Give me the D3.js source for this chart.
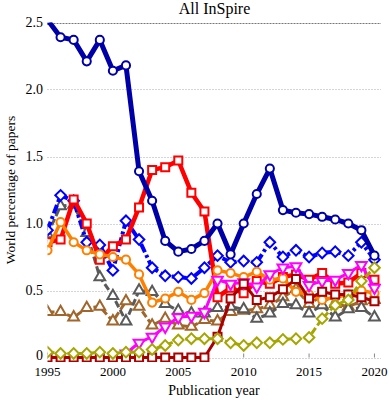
<meta charset='utf-8'>
<script src="https://d3js.org/d3.v7.min.js"></script>
<body style="margin:0;background:#fff"></body>
<script>

// DATA
var years = [1995, 1996, 1997, 1998, 1999, 2000, 2001, 2002, 2003, 2004, 2005, 2006, 2007,
             2008, 2009, 2010, 2011, 2012, 2013, 2014, 2015, 2016, 2017, 2018, 2019, 2020];
var xTicks = [1995, 2000, 2005, 2010, 2015, 2020];
var yTicks = [0, 0.5, 1.0, 1.5, 2.0, 2.5];
var yTickLabels = ['0', '0.5', '1.0', '1.5', '2.0', '2.5'];

var navyVals = [2.52, 2.39, 2.37, 2.21, 2.37, 2.14, 2.18, 1.39, 1.17, 0.87, 0.79, 0.81, 0.87,
                1.00, 0.77, 1.00, 1.22, 1.41, 1.10, 1.08, 1.07, 1.05, 1.03, 1.00, 0.95, 0.76];
var blueVals = [0.95, 1.21, 1.17, 0.86, 0.84, 0.65, 1.02, 0.88, 0.67, 0.61, 0.60, 0.59, 0.67,
                0.76, 0.71, 0.72, 0.71, 0.86, 0.75, 0.80, 0.75, 0.78, 0.79, 0.76, 0.86, 0.73];
var redVals = [0.86, 0.88, 1.18, 1.00, 0.73, 0.83, 0.88, 1.12, 1.40, 1.42, 1.47, 1.23, 1.09,
               0.45, 0.52, 0.48, 0.57, 0.55, 0.60, 0.62, 0.58, 0.63, 0.55, 0.56, 0.63, 0.58];
var orangeVals = [0.80, 1.01, 0.86, 0.80, 0.77, 0.75, 0.73, 0.62, 0.41, 0.44, 0.49, 0.43, 0.48,
                  0.65, 0.63, 0.60, 0.64, 0.58, 0.59, 0.49, 0.47, 0.43, 0.45, 0.47, 0.50, 0.48];
var grayVals = [0.92, 1.13, 1.14, 0.93, 0.60, 0.46, 0.27, 0.50, 0.49, 0.40, 0.35, 0.33, 0.33,
                0.37, 0.38, 0.36, 0.29, 0.33, 0.40, 0.39, 0.33, 0.39, 0.30, 0.36, 0.37, 0.30];
var brownVals = [0.34, 0.34, 0.30, 0.37, 0.38, 0.27, 0.42, 0.38, 0.24, 0.29, 0.24, 0.23, 0.28,
                 0.27, 0.34, 0.35, 0.36, 0.39, 0.45, 0.51, 0.40, 0.46, 0.40, 0.38, 0.42, 0.43];
var magentaVals = [null, null, null, null, null, null, 0.03, 0.11, 0.155, 0.23, 0.30, 0.31, 0.34,
                   0.58, 0.55, 0.56, 0.53, 0.62, 0.67, 0.68, 0.54, 0.57, 0.58, 0.63, 0.69, 0.52];
var oliveVals = [0.04, 0.03, 0.03, 0.03, 0.04, 0.03, 0.04, 0.04, 0.06, 0.09, 0.13, 0.14, 0.14,
                 0.14, 0.11, 0.09, 0.11, 0.11, 0.135, 0.14, 0.15, 0.29, 0.39, 0.43, 0.57, 0.67];
var darkredVals = [0, 0, 0, 0, 0, 0, 0, 0, 0, 0, 0, 0, 0,
                   0.155, 0.44, 0.55, 0.43, 0.45, 0.51, 0.585, 0.44, 0.49, 0.47, 0.47, 0.45, 0.42];

// SERIES STYLE (drawing order, bottom first)
var series = [
    {vals: brownVals,   color: '#a0662b', width: 3,   dash: '7,3',       mark: 'triup'},
    {vals: grayVals,    color: '#5a5a5a', width: 3,   dash: '7,3',       mark: 'triup'},
    {vals: blueVals,    color: '#0000ff', width: 4,   dash: '9,3,3,3',   mark: 'diamond'},
    {vals: redVals,     color: '#ff0000', width: 4.5, dash: null,        mark: 'square'},
    {vals: orangeVals,  color: '#ff8000', width: 3.5, dash: null,        mark: 'circle'},
    {vals: magentaVals, color: '#ff00ff', width: 3,   dash: null,        mark: 'tridown'},
    {vals: darkredVals, color: '#aa0000', width: 3,   dash: null,        mark: 'square'},
    {vals: oliveVals,   color: '#a6a600', width: 3,   dash: '7,3',       mark: 'diamond'},
    {vals: navyVals,    color: '#0000a8', width: 5,   dash: null,        mark: 'circle'}
];

// SETUP
var W = 389, H = 402;
var svg = d3.select('body').append('svg')
    .attr('width', W)
    .attr('height', H)
    .style('font-family', '"Liberation Serif", "DejaVu Serif", serif');

var x = d3.scaleLinear().domain([1995, 2020.5]).range([47.5, 381]);
var y = d3.scaleLinear().domain([0, 2.5]).range([357.5, 22.5]);

svg.append('clipPath').attr('id', 'plotclip')
    .append('rect')
    .attr('x', 47.5).attr('y', 22.5)
    .attr('width', 381 - 47.5).attr('height', 362 - 22.5);

// GRID
svg.append('g').selectAll('line')
    .data(yTicks)
    .join('line')
    .attr('x1', 47.5).attr('x2', 381)
    .attr('y1', function (d) { return Math.round(y(d)) + 0.5; })
    .attr('y2', function (d) { return Math.round(y(d)) + 0.5; })
    .attr('stroke', function (d) { return d == 2.5 ? '#777' : '#aaa'; })
    .attr('stroke-width', 1)
    .attr('stroke-dasharray', function (d) { return d == 2.5 ? '2,1' : '1,2'; });

// x ticks
svg.append('g').selectAll('line')
    .data(xTicks)
    .join('line')
    .attr('x1', function (d) { return x(d); })
    .attr('x2', function (d) { return x(d); })
    .attr('y1', y(0)).attr('y2', y(0) - 4)
    .attr('stroke', '#888').attr('stroke-width', 1);

svg.append('g').selectAll('text')
    .data(xTicks)
    .join('text')
    .attr('x', function (d) { return x(d); })
    .attr('y', 375.5)
    .attr('text-anchor', 'middle')
    .attr('font-size', 13)
    .text(function (d) { return d; });

svg.append('g').selectAll('text')
    .data(yTicks)
    .join('text')
    .attr('x', 43)
    .attr('y', function (d) { return y(d) + (d == 0 ? 2.5 : 4); })
    .attr('text-anchor', 'end')
    .attr('font-size', 14)
    .text(function (d, i) { return yTickLabels[i]; });

// LABELS
svg.append('text')
    .attr('x', 214.5).attr('y', 14)
    .attr('text-anchor', 'middle')
    .attr('font-size', 16)
    .text('All InSpire');

svg.append('text')
    .attr('x', 214).attr('y', 395)
    .attr('text-anchor', 'middle')
    .attr('font-size', 14)
    .text('Publication year');

svg.append('text')
    .attr('transform', 'translate(15,190) rotate(-90)')
    .attr('text-anchor', 'middle')
    .attr('font-size', 13.5)
    .text('World percentage of papers');

// SERIES
var plot = svg.append('g').attr('clip-path', 'url(#plotclip)');

var symbols = {
    circle:  {type: d3.symbolCircle,   size: 52, rot: 0},
    square:  {type: d3.symbolSquare,   size: 64, rot: 0},
    diamond: {type: d3.symbolSquare,   size: 56, rot: 45},
    triup:   {type: d3.symbolTriangle, size: 50, rot: 0},
    tridown: {type: d3.symbolTriangle, size: 50, rot: 180}
};

series.forEach(function (s) {
    var pts = years.map(function (yr, i) { return {yr: yr, v: s.vals[i]}; })
        .filter(function (p) { return p.v != null; });
    var line = d3.line()
        .x(function (p) { return x(p.yr); })
        .y(function (p) { return y(p.v); });
    var g = plot.append('g');
    g.append('path')
        .datum(pts)
        .attr('d', line)
        .attr('fill', 'none')
        .attr('stroke', s.color)
        .attr('stroke-width', s.width)
        .attr('stroke-linejoin', 'round')
        .attr('stroke-dasharray', s.dash);
    var sym = symbols[s.mark];
    g.selectAll('path.mk')
        .data(pts)
        .join('path')
        .attr('class', 'mk')
        .attr('d', d3.symbol().type(sym.type).size(sym.size))
        .attr('transform', function (p) {
            return 'translate(' + x(p.yr) + ',' + y(p.v) + ') rotate(' + sym.rot + ')';
        })
        .attr('fill', 'white')
        .attr('stroke', s.color)
        .attr('stroke-width', 2);
});

</script>
